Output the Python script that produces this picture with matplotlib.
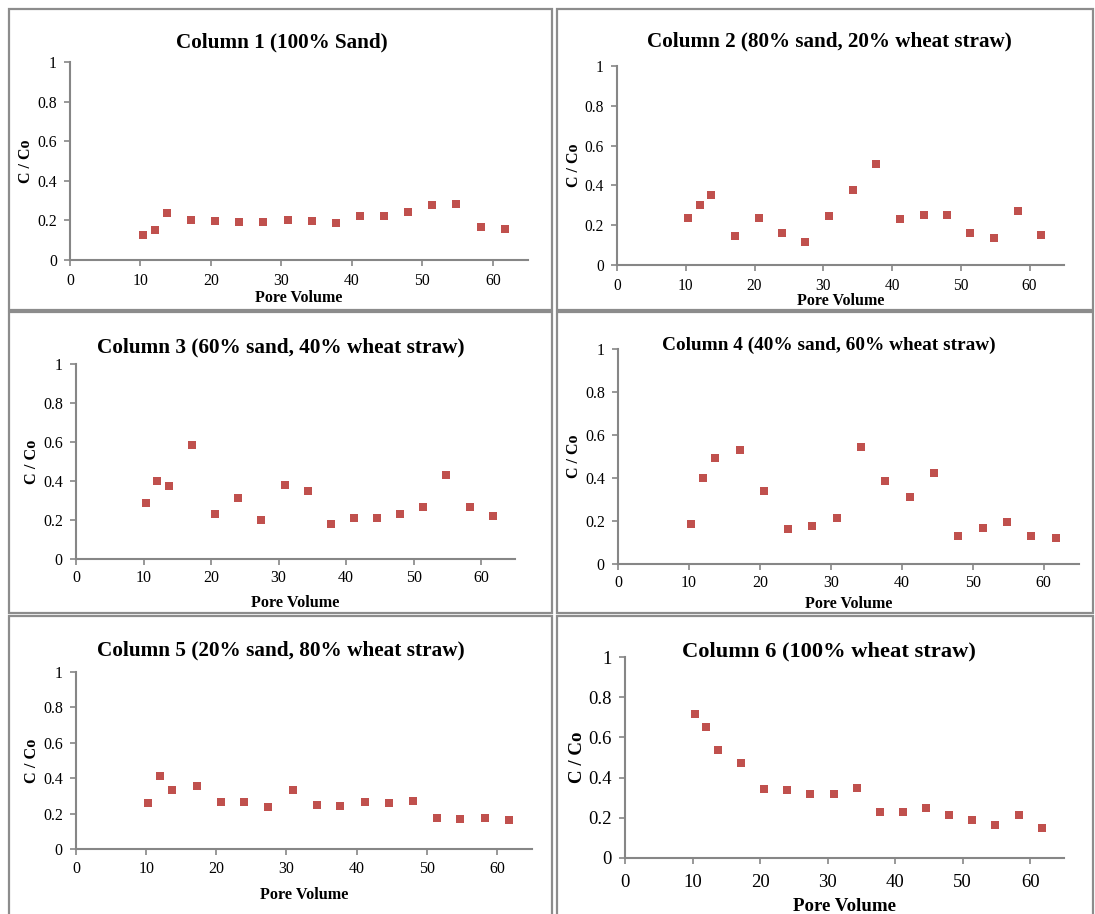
import matplotlib.pyplot as plt
from matplotlib.patches import Rectangle

plt.rcParams['font.family'] = ['Liberation Serif', 'DejaVu Serif']

# Pore volume (same for every column)
pore_volume = [10.3, 12.0, 13.7, 17.2, 20.6, 24.0, 27.4, 30.9, 34.3, 37.7,
               41.2, 44.6, 48.0, 51.4, 54.8, 58.3, 61.7]

# C / Co per column
col1 = [0.127, 0.153, 0.237, 0.203, 0.195, 0.190, 0.190, 0.203, 0.195, 0.185,
        0.223, 0.222, 0.240, 0.277, 0.285, 0.167, 0.158]
col2 = [0.238, 0.302, 0.352, 0.148, 0.238, 0.161, 0.118, 0.244, 0.375, 0.508,
        0.231, 0.251, 0.251, 0.163, 0.138, 0.269, 0.153]
col3 = [0.287, 0.401, 0.372, 0.584, 0.229, 0.314, 0.201, 0.379, 0.348, 0.181,
        0.212, 0.208, 0.232, 0.268, 0.432, 0.266, 0.222]
col4 = [0.188, 0.402, 0.495, 0.531, 0.338, 0.162, 0.175, 0.215, 0.543, 0.385,
        0.311, 0.423, 0.132, 0.168, 0.197, 0.128, 0.123]
col5 = [0.262, 0.411, 0.333, 0.357, 0.265, 0.267, 0.239, 0.335, 0.250, 0.245,
        0.265, 0.258, 0.271, 0.176, 0.168, 0.174, 0.166]
col6 = [0.718, 0.652, 0.535, 0.473, 0.341, 0.339, 0.320, 0.320, 0.348, 0.229,
        0.231, 0.247, 0.214, 0.191, 0.165, 0.214, 0.148]

titles = ['Column 1 (100% Sand)',
          'Column 2 (80% sand, 20% wheat straw)',
          'Column 3 (60% sand, 40% wheat straw)',
          'Column 4 (40% sand, 60% wheat straw)',
          'Column 5 (20% sand, 80% wheat straw)',
          'Column 6 (100% wheat straw)']
series = [col1, col2, col3, col4, col5, col6]

W, H = 1095, 914
fig = plt.figure(figsize=(W / 100, H / 100), dpi=100)

# pixel layout: axes (left, right, top, bottom), title position, font sizes
axes_px = [(70, 528, 62, 260), (617, 1064, 66, 265),
           (76, 515, 364, 559), (618, 1079, 349, 564),
           (76, 532, 672, 849), (625, 1064, 657, 858)]
title_xy = [(282, 42), (829, 41), (281, 347), (829, 345), (281, 650), (829, 651)]
title_fs = [15.2, 15.2, 15.3, 13.9, 15.3, 16.2]
tick_fs = [11.3, 11.2, 11.5, 11.5, 11.5, 13.5]
label_fs = [11.5, 11.5, 11.7, 11.5, 11.7, 13.6]
xpad = [5.2, 5.5, 3.7, 3.7, 4.4, 7.3]
xlabelpad = [1.2, -1.2, 6.9, 4.0, 7.6, 5.5]
boxes = [(9, 9, 552, 310), (557, 9, 1093, 310),
         (9, 312, 552, 613), (557, 312, 1093, 613),
         (9, 616, 552, 920), (557, 616, 1093, 920)]

grey = '#868686'
red = '#C0504D'

for i in range(6):
    x0, y0, x1, y1 = boxes[i]
    fig.add_artist(Rectangle((x0 / W, 1 - y1 / H), (x1 - x0) / W, (y1 - y0) / H,
                             transform=fig.transFigure, fill=False,
                             edgecolor='#8c8c8c', linewidth=1.6))
    l, r, t, b = axes_px[i]
    ax = fig.add_axes([l / W, 1 - b / H, (r - l) / W, (b - t) / H])
    ax.scatter(pore_volume, series[i], marker='s', s=28, color=red,
               linewidths=0, zorder=3)
    ax.set_xlim(0, 65)
    ax.set_ylim(0, 1)
    ax.set_xticks([0, 10, 20, 30, 40, 50, 60])
    ax.set_yticks([0, 0.2, 0.4, 0.6, 0.8, 1])
    ax.set_yticklabels(['0', '0.2', '0.4', '0.6', '0.8', '1'])
    for s in ['top', 'right']:
        ax.spines[s].set_visible(False)
    for s in ['left', 'bottom']:
        ax.spines[s].set_color(grey)
        ax.spines[s].set_linewidth(1.5)
    ax.tick_params(colors=grey, width=1.2, length=4, labelsize=tick_fs[i],
                   labelcolor='black')
    ax.tick_params(axis='x', pad=xpad[i])
    ax.tick_params(axis='y', pad=5.5)
    ax.set_xlabel('Pore Volume', fontweight='bold', fontsize=label_fs[i],
                  labelpad=xlabelpad[i])
    ax.set_ylabel('C / Co', fontweight='bold', fontsize=label_fs[i],
                  labelpad=2)
    ax.patch.set_alpha(0)
    tx, ty = title_xy[i]
    fig.text(tx / W, 1 - ty / H, titles[i], ha='center', va='center',
             fontweight='bold', fontsize=title_fs[i])

fig.savefig('out.png', dpi=100)
